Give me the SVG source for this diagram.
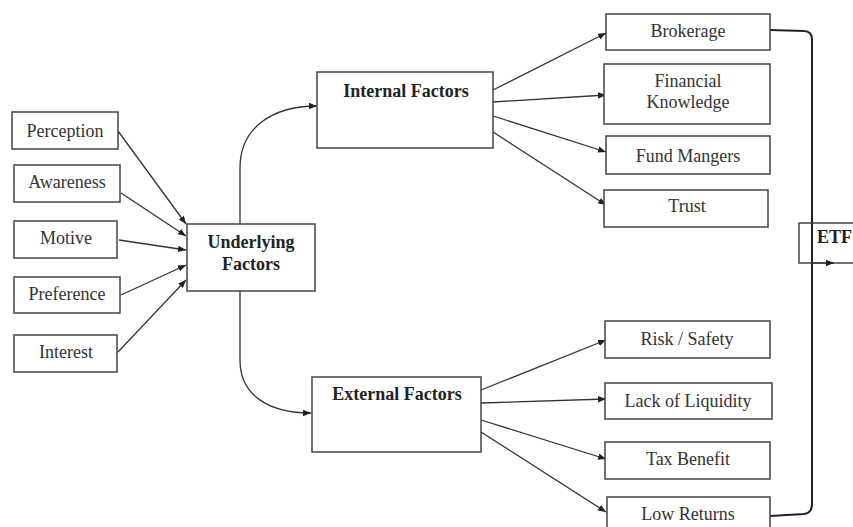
<svg xmlns="http://www.w3.org/2000/svg" width="853" height="527" viewBox="0 0 853 527">
<defs>
<marker id="ah" viewBox="0 0 10 10" refX="10" refY="5" markerWidth="8" markerHeight="8" markerUnits="userSpaceOnUse" orient="auto">
<path d="M0,1 L10,5 L0,9 z" fill="#222"/>
</marker>
<style>
.box{fill:#fff;stroke:#444;stroke-width:1.5}
.t{font-family:"Liberation Serif","Times New Roman",serif;font-size:18px;fill:#333;text-anchor:middle}
.b{font-weight:bold;fill:#222}
.c{fill:none;stroke:#333;stroke-width:1.3}
.e{fill:none;stroke:#222;stroke-width:2}
</style>
</defs>
<rect width="853" height="527" fill="#fff"/>
<g id="connectors">
<line class="c" x1="118" y1="131" x2="186" y2="224" marker-end="url(#ah)"/>
<line class="c" x1="121" y1="193" x2="186" y2="236" marker-end="url(#ah)"/>
<line class="c" x1="119" y1="240" x2="186" y2="250" marker-end="url(#ah)"/>
<line class="c" x1="121" y1="295" x2="186" y2="265" marker-end="url(#ah)"/>
<line class="c" x1="118" y1="352" x2="186" y2="280" marker-end="url(#ah)"/>
<path class="c" d="M240,224 L240,168 C240,128 272,106 317,106" marker-end="url(#ah)"/>
<path class="c" d="M240,291 L240,360 C240,395 268,413 311,413" marker-end="url(#ah)"/>
<line class="c" x1="493" y1="90" x2="606" y2="33" marker-end="url(#ah)"/>
<line class="c" x1="493" y1="102" x2="606" y2="95" marker-end="url(#ah)"/>
<line class="c" x1="493" y1="116" x2="606" y2="152" marker-end="url(#ah)"/>
<line class="c" x1="493" y1="132" x2="606" y2="205" marker-end="url(#ah)"/>
<line class="c" x1="481" y1="390" x2="606" y2="340" marker-end="url(#ah)"/>
<line class="c" x1="481" y1="403" x2="606" y2="399" marker-end="url(#ah)"/>
<line class="c" x1="481" y1="420" x2="606" y2="459" marker-end="url(#ah)"/>
<line class="c" x1="481" y1="432" x2="606" y2="512" marker-end="url(#ah)"/>
<path class="e" d="M770,30 L804,31 Q812,31 812,40 L812,504 Q812,513 804,514 L770,516"/>
</g>
<g id="perception"><rect class="box" x="12" y="112" width="106" height="37"/><text class="t" x="65" y="137">Perception</text></g>
<g id="awareness"><rect class="box" x="14" y="165" width="106" height="37"/><text class="t" x="67" y="188">Awareness</text></g>
<g id="motive"><rect class="box" x="14" y="221" width="103" height="37"/><text class="t" x="66" y="244">Motive</text></g>
<g id="preference"><rect class="box" x="14" y="277" width="106" height="36"/><text class="t" x="67" y="300">Preference</text></g>
<g id="interest"><rect class="box" x="14" y="335" width="103" height="37"/><text class="t" x="66" y="358">Interest</text></g>
<g id="underlying"><rect class="box" x="187" y="224" width="128" height="67"/><text class="t b" x="251" y="248">Underlying</text><text class="t b" x="251" y="270">Factors</text></g>
<g id="internal"><rect class="box" x="317" y="72" width="176" height="76"/><text class="t b" x="406" y="97">Internal Factors</text></g>
<g id="external"><rect class="box" x="312" y="377" width="169" height="75"/><text class="t b" x="397" y="400">External Factors</text></g>
<g id="brokerage"><rect class="box" x="606" y="14" width="164" height="36"/><text class="t" x="688" y="37">Brokerage</text></g>
<g id="financial"><rect class="box" x="604" y="64" width="166" height="60"/><text class="t" x="688" y="87">Financial</text><text class="t" x="688" y="108">Knowledge</text></g>
<g id="fund"><rect class="box" x="606" y="136" width="164" height="38"/><text class="t" x="688" y="162">Fund Mangers</text></g>
<g id="trust"><rect class="box" x="604" y="190" width="164" height="37"/><text class="t" x="687" y="212">Trust</text></g>
<g id="risk"><rect class="box" x="605" y="321" width="165" height="37"/><text class="t" x="687" y="345">Risk / Safety</text></g>
<g id="liquidity"><rect class="box" x="605" y="383" width="167" height="36"/><text class="t" x="688" y="407">Lack of Liquidity</text></g>
<g id="tax"><rect class="box" x="605" y="442" width="165" height="37"/><text class="t" x="688" y="465">Tax Benefit</text></g>
<g id="low"><rect class="box" x="607" y="497" width="163" height="40"/><text class="t" x="688" y="520">Low Returns</text></g>
<g id="etf"><rect class="box" x="799" y="223" width="60" height="40"/><text class="t b" x="817" y="243" style="text-anchor:start">ETF</text>
<line class="e" x1="812" y1="223" x2="812" y2="300"/>
<line class="c" x1="812" y1="263" x2="834" y2="263" marker-end="url(#ah)"/></g>
</svg>
